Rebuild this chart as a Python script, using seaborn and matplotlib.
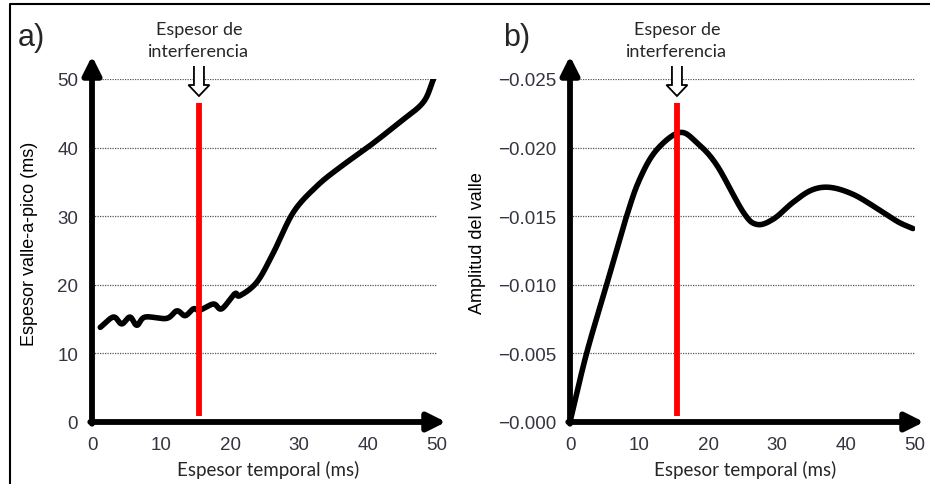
import numpy as np
import pandas as pd
import matplotlib
matplotlib.use("Agg")
import matplotlib.pyplot as plt
from matplotlib.lines import Line2D
from matplotlib.patches import Polygon
import seaborn as sns

# ---- data -------------------------------------------------------------
# a) trough-to-peak width vs. temporal thickness
thick_a = [1.2, 3.1, 4.3, 5.5, 6.5, 7.7, 10.8, 12.3, 13.5, 14.7, 15.6, 17.6,
           18.8, 20.7, 21.4, 23.9, 26.3, 29.2, 32.6, 35.9, 40.3, 44.6, 48.0, 49.5]
width_a = [13.8, 15.3, 14.3, 15.3, 14.1, 15.3, 15.1, 16.2, 15.5, 16.5, 16.3, 17.2,
           16.5, 18.7, 18.4, 20.4, 24.7, 30.6, 34.4, 37.1, 40.3, 43.7, 46.6, 50.0]

# b) trough amplitude vs. temporal thickness
thick_b = [0.0, 2.4, 5.3, 8.2, 10.1, 12.5, 15.9, 18.5, 21.3, 25.1, 27.1,
           29.5, 32.3, 35.0, 37.7, 41.0, 44.4, 47.5, 49.7]
ampl_b = [0.0, -0.005, -0.010, -0.015, -0.0177, -0.0198, -0.0211, -0.0203,
          -0.0187, -0.0153, -0.0144, -0.0148, -0.0160, -0.0169, -0.0171,
          -0.0166, -0.0156, -0.0146, -0.0141]

interference = 15.5  # interference thickness (ms)

ticks_x = [0, 10, 20, 30, 40, 50]
ticks_a = [0, 10, 20, 30, 40, 50]
ticks_b = [0.0, -0.005, -0.010, -0.015, -0.020, -0.025]
labels_b = ["\u22120.000", "\u22120.005", "\u22120.010", "\u22120.015",
            "\u22120.020", "\u22120.025"]

xlabel = "Espesor temporal (ms)"
ylabel_a = "Espesor valle-a-pico (ms)"
ylabel_b = "Amplitud del valle"
marker_text = "Espesor de\ninterferencia"

# ---- style ------------------------------------------------------------
sns.set_style("white")
plt.rcParams["font.family"] = ["Liberation Sans", "DejaVu Sans"]

W, H = 930, 485
fig = plt.figure(figsize=(W / 100, H / 100), dpi=100)

tick_color = "#33343f"


def catmull(x, y, n=20):
    """Catmull-Rom spline through the sampled points."""
    x = np.asarray(x, float)
    y = np.asarray(y, float)
    xs, ys = [], []
    px = np.concatenate([[2 * x[0] - x[1]], x, [2 * x[-1] - x[-2]]])
    py = np.concatenate([[2 * y[0] - y[1]], y, [2 * y[-1] - y[-2]]])
    t = np.linspace(0, 1, n, endpoint=False)
    for i in range(1, len(px) - 2):
        for arr, out in ((px, xs), (py, ys)):
            p0, p1, p2, p3 = arr[i - 1], arr[i], arr[i + 1], arr[i + 2]
            out.extend(0.5 * ((2 * p1) + (-p0 + p2) * t
                              + (2 * p0 - 5 * p1 + 4 * p2 - p3) * t ** 2
                              + (-p0 + 3 * p1 - 3 * p2 + p3) * t ** 3))
    xs.append(x[-1])
    ys.append(y[-1])
    return np.array(xs), np.array(ys)


def make_axes(x0_px, x1_px, y_top_px, y_bot_px):
    return fig.add_axes([x0_px / W, 1 - y_bot_px / H,
                         (x1_px - x0_px) / W, (y_bot_px - y_top_px) / H])


def style_axes(ax, yticks, ylabels, ylim, ylabel, ylabel_x, ylabel_y):
    ax.set_xlim(0, 50)
    ax.set_ylim(*ylim)
    for s in ax.spines.values():
        s.set_visible(False)
    ax.set_xticks(ticks_x)
    ax.set_xticklabels([str(t) for t in ticks_x])
    ax.set_yticks(yticks)
    ax.set_yticklabels(ylabels)
    ax.tick_params(axis="both", length=0, labelsize=13.5, colors=tick_color)
    ax.tick_params(axis="x", pad=10)
    ax.tick_params(axis="y", pad=10)
    # dotted horizontal guides (skip the baseline)
    for v in yticks[1:]:
        ax.axhline(v, color="#555555", lw=0.9, ls=(0, (1, 1)), zorder=1)
    ax.grid(False)
    # arrowed axes
    head = "-|>,head_length=1.1,head_width=0.55"
    ax.annotate("", xy=(0, 1.067), xytext=(0, -0.005), xycoords="axes fraction",
                arrowprops=dict(arrowstyle=head, lw=4.2, color="black",
                                shrinkA=0, shrinkB=0),
                annotation_clip=False, zorder=5)
    ax.annotate("", xy=(1.026, 0), xytext=(-0.005, 0), xycoords="axes fraction",
                arrowprops=dict(arrowstyle=head, lw=4.2, color="black",
                                shrinkA=0, shrinkB=0),
                annotation_clip=False, zorder=5)
    ax.set_xlabel("")
    ax.set_ylabel("")
    fig.text(ylabel_x / W, 1 - ylabel_y / H, ylabel, rotation=90,
             ha="center", va="center", fontsize=13, color="black")


def interference_marker(ax, label_x_px):
    ax.axvline(interference, ymin=0.018, ymax=0.93, color="#ff0000", lw=4.2,
               zorder=4, solid_capstyle="butt")
    cx, _ = ax.transData.transform((interference, 0))
    # hollow down arrow above the marker, drawn in pixel space
    top, neck, tip = H - 67, H - 86, H - 97
    pts = [(cx - 5, top), (cx - 5, neck), (cx - 10.5, neck), (cx, tip),
           (cx + 10.5, neck), (cx + 5, neck), (cx + 5, top)]
    fig.patches.append(Polygon(pts, closed=False, fc="white", ec="black",
                               lw=1.3, transform=None, zorder=6))
    fig.text(cx / W, 1 - 41 / H, marker_text, ha="center", va="center",
             fontsize=13, family=["Lato", "DejaVu Sans"], linespacing=1.5)
    fig.text(label_x_px / W, 1 - 470 / H, xlabel, ha="center", va="center",
             fontsize=13.5, family=["Lato", "DejaVu Sans"])


# ---- panel a ----------------------------------------------------------
ax_a = make_axes(92, 437, 80, 423)
sx_a, sy_a = catmull(thick_a, width_a)
df_a = pd.DataFrame({"t": sx_a, "w": sy_a})
sns.lineplot(data=df_a, x="t", y="w", ax=ax_a, color="black", lw=4,
             sort=False, zorder=3)
ax_a.lines[-1].set_solid_capstyle("round")
style_axes(ax_a, ticks_a, [str(t) for t in ticks_a], (0, 50), ylabel_a, 30, 244)
interference_marker(ax_a, 268)

# ---- panel b ----------------------------------------------------------
ax_b = make_axes(570, 915, 80, 423)
sx_b, sy_b = catmull(thick_b, ampl_b)
df_b = pd.DataFrame({"t": sx_b, "a": sy_b})
sns.lineplot(data=df_b, x="t", y="a", ax=ax_b, color="black", lw=4,
             sort=False, zorder=3)
ax_b.lines[-1].set_solid_capstyle("round")
style_axes(ax_b, ticks_b, labels_b, (0, -0.025), ylabel_b, 477, 243)
interference_marker(ax_b, 745)

# panel letters
fig.text(18 / W, 1 - 38 / H, "a)", fontsize=22, ha="left", va="center")
fig.text(503 / W, 1 - 38 / H, "b)", fontsize=22, ha="left", va="center")

# thin frame along top and left edges
fig.add_artist(Line2D([10 / W, 10 / W, 1], [0, 1 - 5 / H, 1 - 5 / H],
                      transform=fig.transFigure, color="black", lw=1.5))

fig.savefig("out.png", dpi=100)
